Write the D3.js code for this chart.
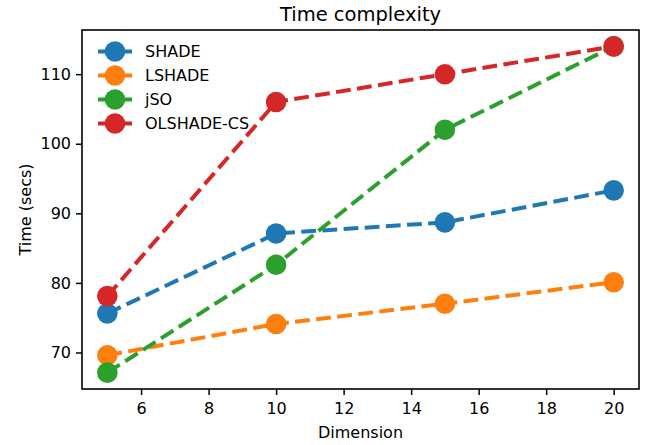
<!DOCTYPE html>
<html>
<head>
<meta charset="utf-8">
<script src="https://cdn.jsdelivr.net/npm/d3@7"></script>
<style>
  body { margin: 0; background: #fff; }
  svg { font-family: "DejaVu Sans", sans-serif; }
</style>
</head>
<body>
<svg id="chart" width="656" height="445"></svg>
<script>
// data
const dims = [5, 10, 15, 20];
const shade = [75.6, 87.1, 88.7, 93.3];
const lshade = [69.6, 74.1, 77.0, 80.1];
const jso = [67.1, 82.6, 102.0, 114.0];
const olshade = [78.1, 106.0, 110.0, 114.0];
const seriesNames = ["SHADE", "LSHADE", "jSO", "OLSHADE-CS"];
const xTicks = [6, 8, 10, 12, 14, 16, 18, 20];
const yTicks = [70, 80, 90, 100, 110];

const colors = ["#1f77b4", "#ff7f0e", "#2ca02c", "#d62728"];
const series = [shade, lshade, jso, olshade].map((vals, i) => ({
  name: seriesNames[i],
  color: colors[i],
  points: dims.map((d, j) => ({ x: d, y: vals[j] }))
}));

const svg = d3.select("#chart");
const plotLeft = 82, plotRight = 639, plotTop = 30, plotBottom = 389;
const fontSize = 16;

const x = d3.scaleLinear().domain([4.25, 20.75]).range([plotLeft, plotRight]);
const y = d3.scaleLinear().domain([64.75, 116.35]).range([plotBottom, plotTop]);

const line = d3.line().x(d => x(d.x)).y(d => y(d.y));

// series: line then markers, in order
series.forEach(s => {
  const g = svg.append("g");
  g.append("path")
    .attr("d", line(s.points))
    .attr("fill", "none")
    .attr("stroke", s.color)
    .attr("stroke-width", 4)
    .attr("stroke-dasharray", "14.8,6.4");
  g.selectAll("circle").data(s.points).join("circle")
    .attr("cx", d => x(d.x))
    .attr("cy", d => y(d.y))
    .attr("r", 10.3)
    .attr("fill", s.color);
});

// axes
const xAxis = d3.axisBottom(x).tickValues(xTicks).tickSizeOuter(0).tickSize(6).tickPadding(7.5);
const yAxis = d3.axisLeft(y).tickValues(yTicks).tickSizeOuter(0).tickSize(6).tickPadding(5);

svg.append("g").attr("transform", `translate(0,${plotBottom})`).call(xAxis)
  .call(g => g.select(".domain").remove())
  .selectAll("text").attr("font-size", fontSize).attr("fill", "#000").attr("font-family", "DejaVu Sans");
svg.append("g").attr("transform", `translate(${plotLeft},0)`).call(yAxis)
  .call(g => g.select(".domain").remove())
  .selectAll("text").attr("font-size", fontSize).attr("fill", "#000").attr("font-family", "DejaVu Sans");

svg.selectAll(".tick line").attr("stroke", "#000").attr("stroke-width", 1.5);

// frame
svg.append("rect")
  .attr("x", plotLeft).attr("y", plotTop)
  .attr("width", plotRight - plotLeft).attr("height", plotBottom - plotTop)
  .attr("fill", "none").attr("stroke", "#000").attr("stroke-width", 1.6);

// title and labels
svg.append("text").attr("x", (plotLeft + plotRight) / 2).attr("y", 21)
  .attr("text-anchor", "middle").attr("font-size", 19.5).text("Time complexity");
svg.append("text").attr("x", (plotLeft + plotRight) / 2).attr("y", 438)
  .attr("text-anchor", "middle").attr("font-size", fontSize).text("Dimension");
svg.append("text").attr("transform", `translate(31,${(plotTop + plotBottom) / 2}) rotate(-90)`)
  .attr("text-anchor", "middle").attr("font-size", fontSize).text("Time (secs)");

// legend
const legend = svg.append("g");
series.forEach((s, i) => {
  const ly = 51.5 + i * 24;
  legend.append("line")
    .attr("x1", 98).attr("x2", 132).attr("y1", ly).attr("y2", ly)
    .attr("stroke", s.color).attr("stroke-width", 4);
  legend.append("circle").attr("cx", 115).attr("cy", ly).attr("r", 10.3).attr("fill", s.color);
  legend.append("text").attr("x", 145).attr("y", ly).attr("dy", "0.35em")
    .attr("font-size", fontSize).text(s.name);
});
</script>
</body>
</html>
